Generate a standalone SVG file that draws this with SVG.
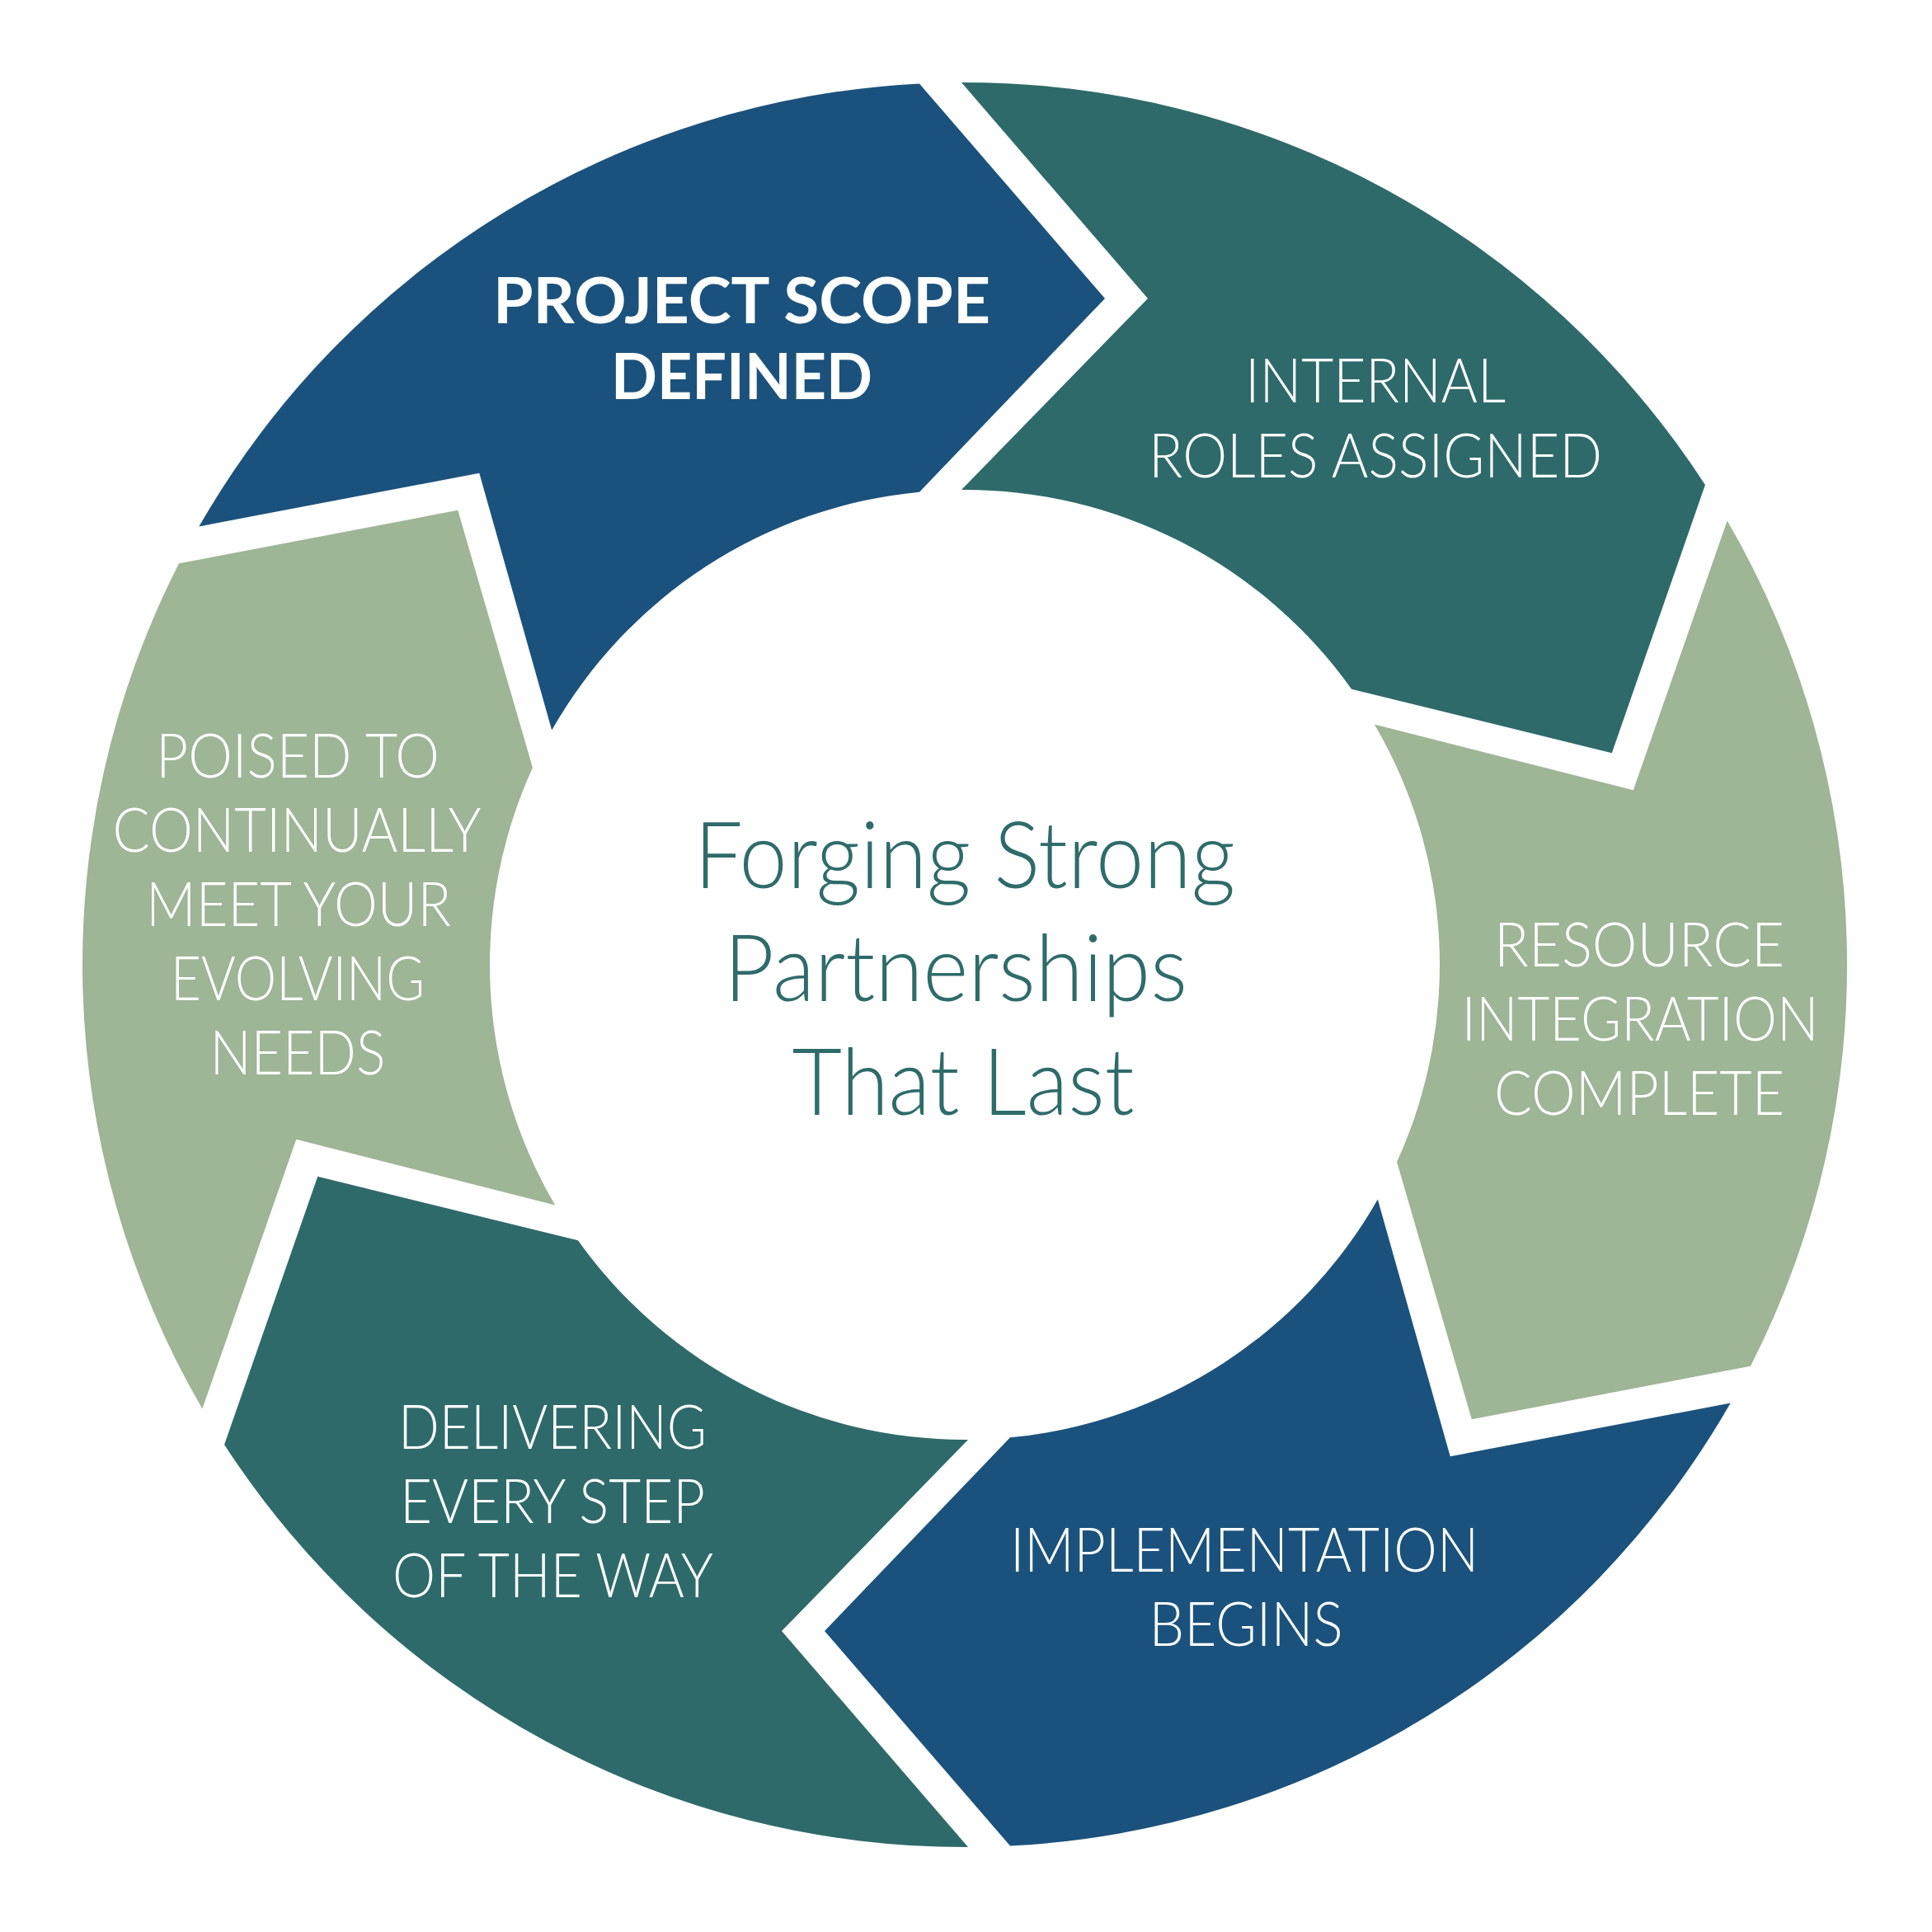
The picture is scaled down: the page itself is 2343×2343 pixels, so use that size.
<svg xmlns="http://www.w3.org/2000/svg" width="2343" height="2343" viewBox="0 0 2343 2343">
<style>
.blue{fill:#1b527d}
.teal{fill:#2f6a6a}
.sage{fill:#9eb596}
.lbl{font-family:"Lato","Open Sans","Liberation Sans",sans-serif;font-weight:300;font-size:74px;fill:#ffffff;text-anchor:middle}
.bold{font-family:"Lato","Open Sans","Liberation Sans",sans-serif;font-weight:700;font-size:76px;fill:#ffffff;text-anchor:middle}
.ctr{font-family:"Lato","Open Sans","Liberation Sans",sans-serif;font-weight:300;font-size:112px;fill:#2f6b6b;text-anchor:middle}
</style>
<rect width="2343" height="2343" fill="#ffffff"/>

<g id="node-project-scope">
<path class="blue" d="M241.36,638.47 A1070,1070 0 0 1 1115,101.41 L1340,362 L1115,596.63 A576,576 0 0 0 669.18,885.47 L581.25,573.74 Z"/>
<text class="bold" x="899.5" y="392" textLength="603" lengthAdjust="spacingAndGlyphs">PROJECT SCOPE</text>
<text class="bold" x="899.5" y="484" textLength="317" lengthAdjust="spacingAndGlyphs">DEFINED</text>
</g>

<g id="node-internal-roles">
<path class="teal" d="M1166,100.01 A1070,1070 0 0 1 2067.93,588.07 L1954.75,913.22 L1639.05,835.68 A576,576 0 0 0 1166,594.01 L1392,362 Z"/>
<text class="lbl" x="1668" y="488" textLength="316" lengthAdjust="spacingAndGlyphs">INTERNAL</text>
<text class="lbl" x="1668" y="579" textLength="550" lengthAdjust="spacingAndGlyphs">ROLES ASSIGNED</text>
</g>

<g id="node-resource-integration">
<path class="sage" d="M2094.64,631.54 A1070,1070 0 0 1 2122.93,1656.67 L1784.75,1721.22 L1694.05,1409.06 A576,576 0 0 0 1666.82,878.54 L1980.75,958.26 Z"/>
<text class="lbl" x="1988" y="1172" textLength="352" lengthAdjust="spacingAndGlyphs">RESOURCE</text>
<text class="lbl" x="1989" y="1262" textLength="433" lengthAdjust="spacingAndGlyphs">INTEGRATION</text>
<text class="lbl" x="1988" y="1352" textLength="352" lengthAdjust="spacingAndGlyphs">COMPLETE</text>
</g>

<g id="node-implementation">
<path class="blue" d="M2098.64,1701.53 A1070,1070 0 0 1 1225,2238.59 L1000,1978 L1225,1743.37 A576,576 0 0 0 1670.82,1454.53 L1758.75,1766.26 Z"/>
<text class="lbl" x="1509" y="1906" textLength="568" lengthAdjust="spacingAndGlyphs">IMPLEMENTATION</text>
<text class="lbl" x="1511" y="1996" textLength="235" lengthAdjust="spacingAndGlyphs">BEGINS</text>
</g>

<g id="node-delivering">
<path class="teal" d="M1174,2239.99 A1070,1070 0 0 1 272.07,1751.93 L385.25,1426.78 L700.95,1504.32 A576,576 0 0 0 1174,1745.99 L948,1978 Z"/>
<text class="lbl" x="670" y="1757" textLength="374" lengthAdjust="spacingAndGlyphs">DELIVERING</text>
<text class="lbl" x="670" y="1847" textLength="370" lengthAdjust="spacingAndGlyphs">EVERY STEP</text>
<text class="lbl" x="670.5" y="1937" textLength="389" lengthAdjust="spacingAndGlyphs">OF THE WAY</text>
</g>

<g id="node-poised">
<path class="sage" d="M245.36,1708.46 A1070,1070 0 0 1 217.07,683.33 L555.25,618.78 L645.95,930.94 A576,576 0 0 0 673.18,1461.46 L359.25,1381.74 Z"/>
<text class="lbl" x="361" y="943" textLength="344" lengthAdjust="spacingAndGlyphs">POISED TO</text>
<text class="lbl" x="360" y="1033" textLength="447" lengthAdjust="spacingAndGlyphs">CONTINUALLY</text>
<text class="lbl" x="362" y="1123" textLength="370" lengthAdjust="spacingAndGlyphs">MEET YOUR</text>
<text class="lbl" x="361" y="1213" textLength="308" lengthAdjust="spacingAndGlyphs">EVOLVING</text>
<text class="lbl" x="361" y="1303" textLength="213" lengthAdjust="spacingAndGlyphs">NEEDS</text>
</g>

<g id="node-center">
<text class="ctr" x="1170" y="1077" textLength="656" lengthAdjust="spacingAndGlyphs">Forging Strong</text>
<text class="ctr" x="1159" y="1214" textLength="562" lengthAdjust="spacingAndGlyphs">Partnerships</text>
<text class="ctr" x="1168" y="1352" textLength="415" lengthAdjust="spacingAndGlyphs">That Last</text>
</g>
</svg>
